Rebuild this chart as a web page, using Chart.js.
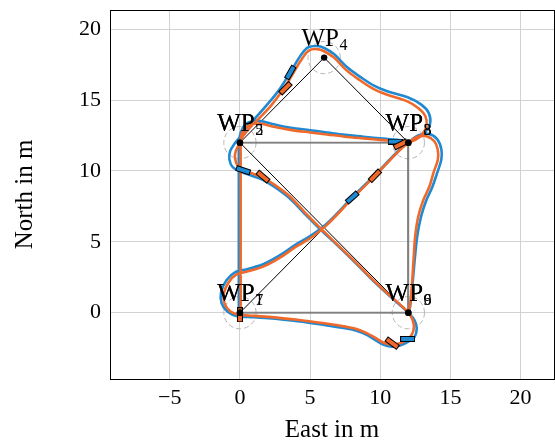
<!DOCTYPE html>
<html>
<head>
<meta charset="utf-8">
<script src="https://cdn.jsdelivr.net/npm/chart.js@4.4.1/dist/chart.umd.min.js"></script>
<style>
  html, body { margin: 0; padding: 0; overflow: hidden; background: #fff; }
  #wrap { position: relative; width: 560px; height: 443px; }
</style>
</head>
<body>
<div id="wrap"><canvas id="plot"></canvas></div>
<script>
// Waypoints in the order they are visited
const wpNumber = [1, 2, 3, 4, 5, 6, 7, 8, 9];
const wpEast   = [0, 0, 12, 6, 0, 12, 0, 12, 12];
const wpNorth  = [0, 12, 12, 18, 12, 0, 0, 12, 0];
// legs drawn in gray (leg i joins waypoint i and i+1)
const grayLegs = [0, 1, 5, 7];
// acceptance radius around each waypoint, m
const acceptRadius = 1.15;

const xTicks = [-5, 0, 5, 10, 15, 20];
const yTicks = [0, 5, 10, 15, 20];

// Vehicle 1 (blue) track, east / north in m
const blueEast = [
  -0.08, -0.08, -0.08, -0.08, -0.08,
  -0.08, 0.05, 0.35, 0.85, 1.5, 2.4, 3.6, 5.0, 6.2, 7.5, 8.8, 10.2, 11.2, 12.0,
  12.6, 13.2, 13.55, 13.45, 12.9, 11.95, 10.5, 9.55, 8.6, 7.6, 6.7, 6.0,
  5.5, 4.85, 4.3, 3.85, 3.3, 2.7, 2.0, 1.2, 0.5, 0.0, -0.4,
  -0.7, -0.75, -0.5, 0.1, 0.9, 1.6, 2.5, 3.5, 4.6, 5.7, 7.0, 8.3, 9.5, 10.7, 11.5, 12.05,
  12.45, 12.6, 12.45, 12.0, 11.4, 10.8, 10.2, 9.6, 9.0, 8.3, 7.6, 6.0, 4.1, 1.8, 0.6, -0.2,
  -0.85, -1.3, -1.35, -0.95, -0.3, 0.5, 1.65, 2.8, 4.0, 5.0, 6.2, 8.0, 10.0, 11.2, 12.05,
  12.7, 13.45, 14.05, 14.35, 14.35, 14.05, 13.7, 13.25, 12.9, 12.65, 12.5, 12.35, 12.22, 12.12, 12.02
];
const blueNorth = [
  -0.3, 3.0, 6.0, 9.0, 11.3,
  12.0, 12.7, 13.25, 13.5, 13.52, 13.3, 13.05, 12.88, 12.72, 12.55, 12.42, 12.28, 12.2, 12.12,
  12.3, 12.75, 13.35, 14.1, 14.7, 15.2, 15.62, 16.02, 16.62, 17.35, 18.25, 18.68,
  18.82, 18.72, 18.12, 17.4, 16.5, 15.6, 14.75, 13.85, 13.1, 12.4, 11.9,
  11.4, 10.8, 10.25, 9.95, 9.65, 9.4, 8.85, 8.1, 7.0, 5.9, 4.7, 3.45, 2.25, 1.15, 0.45, -0.05,
  -0.55, -1.1, -1.7, -2.05, -2.32, -2.4, -2.25, -1.9, -1.55, -1.28, -1.12, -0.86, -0.6, -0.38, -0.3, -0.25,
  0.05, 0.65, 1.4, 2.3, 2.88, 3.07, 3.42, 4.02, 4.82, 5.4, 6.3, 8.13, 10.1, 11.35, 12.05,
  12.5, 12.62, 12.25, 11.55, 10.8, 9.85, 8.85, 7.85, 6.75, 5.5, 4.2, 2.6, 1.2, 0.4, 0.0
];

// Vehicle 2 (orange) track, east / north in m
const orangeEast = [
  0.05, 0.05, 0.05, 0.05, 0.05,
  0.05, 0.12, 0.4, 0.85, 1.5, 2.4, 3.6, 5.0, 6.2, 7.5, 8.8, 10.2, 11.2, 12.0,
  12.5, 13.0, 13.3, 13.2, 12.7, 11.85, 10.45, 9.5, 8.55, 7.6, 6.7, 6.0,
  5.5, 4.9, 4.45, 4.0, 3.5, 2.9, 2.2, 1.4, 0.7, 0.25, 0.0,
  -0.3, -0.35, -0.15, 0.35, 1.0, 1.6, 2.5, 3.5, 4.6, 5.7, 7.0, 8.3, 9.5, 10.7, 11.5, 12.0,
  12.3, 12.4, 12.25, 11.9, 11.4, 10.8, 10.2, 9.6, 9.0, 8.3, 7.6, 6.0, 4.1, 1.8, 0.6, -0.1,
  -0.7, -1.1, -1.15, -0.8, -0.24, 0.5, 1.65, 2.8, 4.0, 5.0, 6.2, 8.0, 10.0, 11.2, 12.0,
  12.6, 13.3, 13.85, 14.1, 14.1, 13.8, 13.5, 13.05, 12.7, 12.5, 12.4, 12.3, 12.2, 12.1, 12.0
];
const orangeNorth = [
  -0.3, 3.0, 6.0, 9.0, 11.3,
  12.0, 12.6, 13.05, 13.3, 13.33, 13.12, 12.9, 12.72, 12.58, 12.42, 12.3, 12.18, 12.1, 12.05,
  12.2, 12.6, 13.2, 13.9, 14.45, 14.95, 15.4, 15.8, 16.4, 17.1, 18.0, 18.45,
  18.6, 18.5, 17.95, 17.25, 16.4, 15.5, 14.6, 13.75, 13.05, 12.5, 12.0,
  11.4, 10.9, 10.35, 10.05, 9.78, 9.55, 9.0, 8.25, 7.1, 6.0, 4.75, 3.5, 2.3, 1.2, 0.5, 0.0,
  -0.5, -1.05, -1.55, -1.9, -2.15, -2.25, -2.1, -1.75, -1.42, -1.15, -1.0, -0.75, -0.5, -0.28, -0.2, -0.15,
  0.1, 0.66, 1.37, 2.15, 2.7, 2.9, 3.25, 3.85, 4.66, 5.25, 6.2, 8.05, 10.05, 11.3, 12.0,
  12.4, 12.45, 12.1, 11.5, 10.8, 9.9, 8.9, 7.9, 6.75, 5.5, 4.2, 2.6, 1.2, 0.4, 0.0
];

// Sampled vehicle poses: position in m, heading in degrees (counter-clockwise from east)
const blueMarkEast    = [0.0, 11.95, 0.23, 11.06, 3.59, 8.0];
const blueMarkNorth   = [-0.15, -1.86, 10.05, 12.08, 16.95, 8.13];
const blueMarkHeading = [90, 180, -18, 0, 60, 42];
const orangeMarkEast    = [0.0, 10.85, 1.64, 11.45, 3.24, 9.62];
const orangeMarkNorth   = [-0.15, -2.15, 9.6, 11.88, 15.84, 9.66];
const orangeMarkHeading = [90, 144, -40, 27, 45, 46];

const serif = "'Liberation Serif', 'Times New Roman', serif";
const blueColor = '#1f89d2';
const orangeColor = '#f0692a';

const pts = (xs, ys) => xs.map((x, i) => ({ x, y: ys[i] }));
const fmtTick = v => (v < 0 ? '\u2212' + Math.abs(v) : String(v));

// small outlined bar used as a pose glyph
function poseGlyph(fill) {
  const c = document.createElement('canvas');
  c.width = 15; c.height = 6;
  const g = c.getContext('2d');
  g.fillStyle = fill;
  g.strokeStyle = '#000';
  g.lineWidth = 1;
  g.fillRect(0.5, 0.5, 14, 5);
  g.strokeRect(0.5, 0.5, 14, 5);
  return c;
}

const legDatasets = grayLegs.map(i => ({
  data: [{ x: wpEast[i], y: wpNorth[i] }, { x: wpEast[i + 1], y: wpNorth[i + 1] }],
  showLine: true, borderColor: '#808080', borderWidth: 1.7, pointRadius: 0, order: 5
}));

const datasets = [
  { data: pts(wpEast, wpNorth), showLine: false, pointRadius: 3.2,
    pointBackgroundColor: '#000', pointBorderWidth: 0, order: 0 },
  { data: pts(orangeMarkEast, orangeMarkNorth), showLine: false,
    pointStyle: poseGlyph(orangeColor), pointRadius: 5,
    pointRotation: orangeMarkHeading.map(h => -h), order: 1 },
  { data: pts(blueMarkEast, blueMarkNorth), showLine: false,
    pointStyle: poseGlyph(blueColor), pointRadius: 5,
    pointRotation: blueMarkHeading.map(h => -h), order: 2 },
  { data: pts(orangeEast, orangeNorth), showLine: true, borderColor: orangeColor,
    borderWidth: 2.6, pointRadius: 0, tension: 0.35, order: 3 },
  { data: pts(blueEast, blueNorth), showLine: true, borderColor: blueColor,
    borderWidth: 2.6, pointRadius: 0, tension: 0.35, order: 4 },
  ...legDatasets,
  { data: pts(wpEast, wpNorth), showLine: true, borderColor: '#000',
    borderWidth: 1, pointRadius: 0, order: 6 }
];

// dashed acceptance circles around each waypoint
const acceptCircles = {
  id: 'acceptCircles',
  beforeDatasetsDraw(chart) {
    const { ctx, scales: { x, y } } = chart;
    const seen = new Set();
    ctx.save();
    ctx.strokeStyle = '#b4b4b4';
    ctx.lineWidth = 1;
    ctx.setLineDash([5, 3]);
    wpEast.forEach((e, i) => {
      const key = e + ',' + wpNorth[i];
      if (seen.has(key)) return;
      seen.add(key);
      const cx = x.getPixelForValue(e), cy = y.getPixelForValue(wpNorth[i]);
      const r = x.getPixelForValue(e + acceptRadius) - cx;
      ctx.beginPath();
      ctx.arc(cx, cy, r, 0, Math.PI * 2);
      ctx.stroke();
    });
    ctx.restore();
  }
};

// "WP_n" labels above each waypoint
const wpLabels = {
  id: 'wpLabels',
  afterDatasetsDraw(chart) {
    const { ctx, scales: { x, y } } = chart;
    ctx.save();
    ctx.fillStyle = '#000';
    ctx.textBaseline = 'alphabetic';
    ctx.textAlign = 'left';
    wpNumber.forEach((n, i) => {
      const px = x.getPixelForValue(wpEast[i]);
      const py = y.getPixelForValue(wpNorth[i]);
      ctx.font = '25px ' + serif;
      const wMain = ctx.measureText('WP').width;
      ctx.font = '16px ' + serif;
      const wSub = ctx.measureText(String(n)).width;
      const left = px - (wMain + wSub) / 2;
      const base = py - 12;
      ctx.font = '25px ' + serif;
      ctx.fillText('WP', left, base);
      ctx.font = '16px ' + serif;
      ctx.fillText(String(n), left + wMain + 0.5, base + 4.5);
    });
    ctx.restore();
  }
};

// box around the plot area
const frame = {
  id: 'frame',
  afterDraw(chart) {
    const { ctx, chartArea: a } = chart;
    ctx.save();
    ctx.strokeStyle = '#000';
    ctx.lineWidth = 1;
    ctx.strokeRect(Math.round(a.left) + 0.5, Math.round(a.top) + 0.5,
                   Math.round(a.right - a.left), Math.round(a.bottom - a.top));
    ctx.restore();
  }
};

new Chart(document.getElementById('plot'), {
  type: 'scatter',
  data: { datasets },
  plugins: [acceptCircles, wpLabels, frame],
  options: {
    responsive: true,
    maintainAspectRatio: false,
    animation: false,
    events: [],
    layout: { padding: { top: 10, right: 0, bottom: 0, left: 0 } },
    plugins: { legend: { display: false }, tooltip: { enabled: false } },
    scales: {
      x: {
        type: 'linear', min: -9.26, max: 22.38,
        afterBuildTicks: s => { s.ticks = xTicks.map(v => ({ value: v })); },
        afterFit: s => { s.height = 64; s.paddingLeft = 0; s.paddingRight = 0; },
        grid: { color: '#d2d2d2', lineWidth: 1, drawTicks: false },
        border: { display: false },
        ticks: { autoSkip: false, maxRotation: 0, padding: 6, color: '#000',
                 font: { family: serif, size: 22 }, callback: v => fmtTick(v) },
        title: { display: true, text: 'East in m', color: '#000',
                 font: { family: serif, size: 25, lineHeight: 1.0 }, padding: { top: 0, bottom: 0 } }
      },
      y: {
        type: 'linear', min: -4.68, max: 21.36,
        afterBuildTicks: s => { s.ticks = yTicks.map(v => ({ value: v })); },
        afterFit: s => { s.width = 110; s.paddingTop = 0; s.paddingBottom = 0; },
        grid: { color: '#d2d2d2', lineWidth: 1, drawTicks: false },
        border: { display: false },
        ticks: { autoSkip: false, padding: 9, color: '#000',
                 font: { family: serif, size: 22 }, callback: v => fmtTick(v) },
        title: { display: true, text: 'North in m', color: '#000',
                 font: { family: serif, size: 25 }, padding: { top: 10, bottom: 0 } }
      }
    }
  }
});
</script>
</body>
</html>
